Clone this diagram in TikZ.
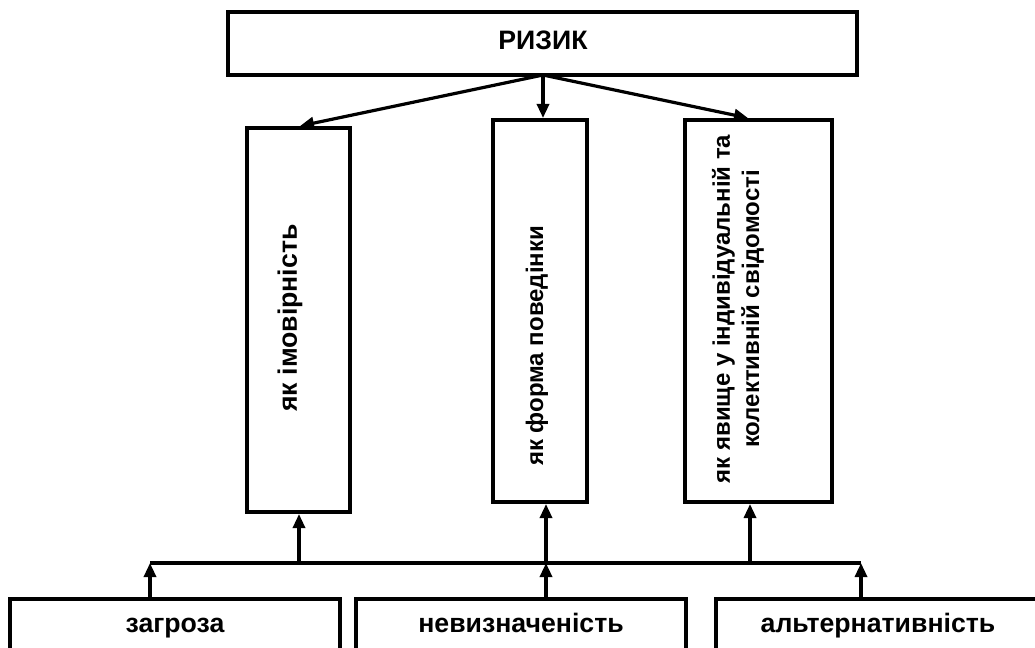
\documentclass[tikz,border=0pt]{standalone}
\usepackage{fontspec}
\setmainfont{Liberation Sans}
\usetikzlibrary{arrows.meta}
\begin{document}
\begin{tikzpicture}[x=0.75pt,y=-0.75pt,
  box/.style={draw=black,line width=3pt,fill=white,inner sep=0pt},
  txt/.style={font=\fontsize{18}{22}\selectfont\bfseries,inner sep=0pt,align=center},
  bigtxt/.style={font=\fontsize{20}{24}\selectfont\bfseries,inner sep=0pt,anchor=base},
  arr/.style={line width=2.4pt,-{Triangle[length=10.5pt,width=9pt]}},
  bus/.style={line width=2.4pt}]
\useasboundingbox (0,0) rectangle (1035,648);
\clip (0,0) rectangle (1035,648);
% top box
\node[box,minimum width=629*0.75pt,minimum height=63*0.75pt] (top) at (542.5,43.5) {};
\node[bigtxt] (toptxt) at (543,50) {РИЗИК};
% vertical boxes
\node[box,minimum width=103*0.75pt,minimum height=384*0.75pt] (b1) at (298.5,320) {};
\node[box,minimum width=94*0.75pt,minimum height=382*0.75pt] (b2) at (540,311) {};
\node[box,minimum width=147*0.75pt,minimum height=382*0.75pt] (b3) at (758.5,311) {};
\node[txt,font=\fontsize{20}{24}\selectfont\bfseries,rotate=90] (t1) at (290,318) {як імовірність};
\node[txt,rotate=90] (t2) at (537,346) {як форма поведінки};
\node[txt,rotate=90] (t3) at (738,309) {як явище у індивідуальній та\\колективній свідомості};
% bottom boxes
\node[box,minimum width=330*0.75pt,minimum height=80*0.75pt] (c1) at (175,639) {};
\node[box,minimum width=330*0.75pt,minimum height=80*0.75pt] (c2) at (521,639) {};
\node[box,minimum width=324*0.75pt,minimum height=80*0.75pt] (c3) at (878,639) {};
\node[bigtxt] (ct1) at (175,632) {загроза};
\node[bigtxt] (ct2) at (521,632) {невизначеність};
\node[bigtxt] (ct3) at (878,632) {альтернативність};
% connectors from top
\coordinate (o) at (543,75);
\draw[arr] (o) -- ([xshift=1.5*0.75pt]b1.north);
\draw[arr] (o) -- (b2.north -| o);
\draw[arr] (o) -- ([xshift=-10.5*0.75pt]b3.north);
% bus
\coordinate (busL) at (150,563);
\coordinate (busR) at (861,563);
\draw[bus] (busL) -- (busR);
\coordinate (u1) at (299,563);
\coordinate (u2) at (546,563);
\coordinate (u3) at (750,563);
\draw[arr] (u1) -- (u1 |- b1.south);
\draw[arr] (u2) -- (u2 |- b2.south);
\draw[arr] (u3) -- (u3 |- b3.south);
\draw[arr] (c1.north -| busL) -- (busL);
\draw[arr] (c2.north -| u2) -- (u2);
\draw[arr] (c3.north -| busR) -- (busR);
\end{tikzpicture}
\end{document}
